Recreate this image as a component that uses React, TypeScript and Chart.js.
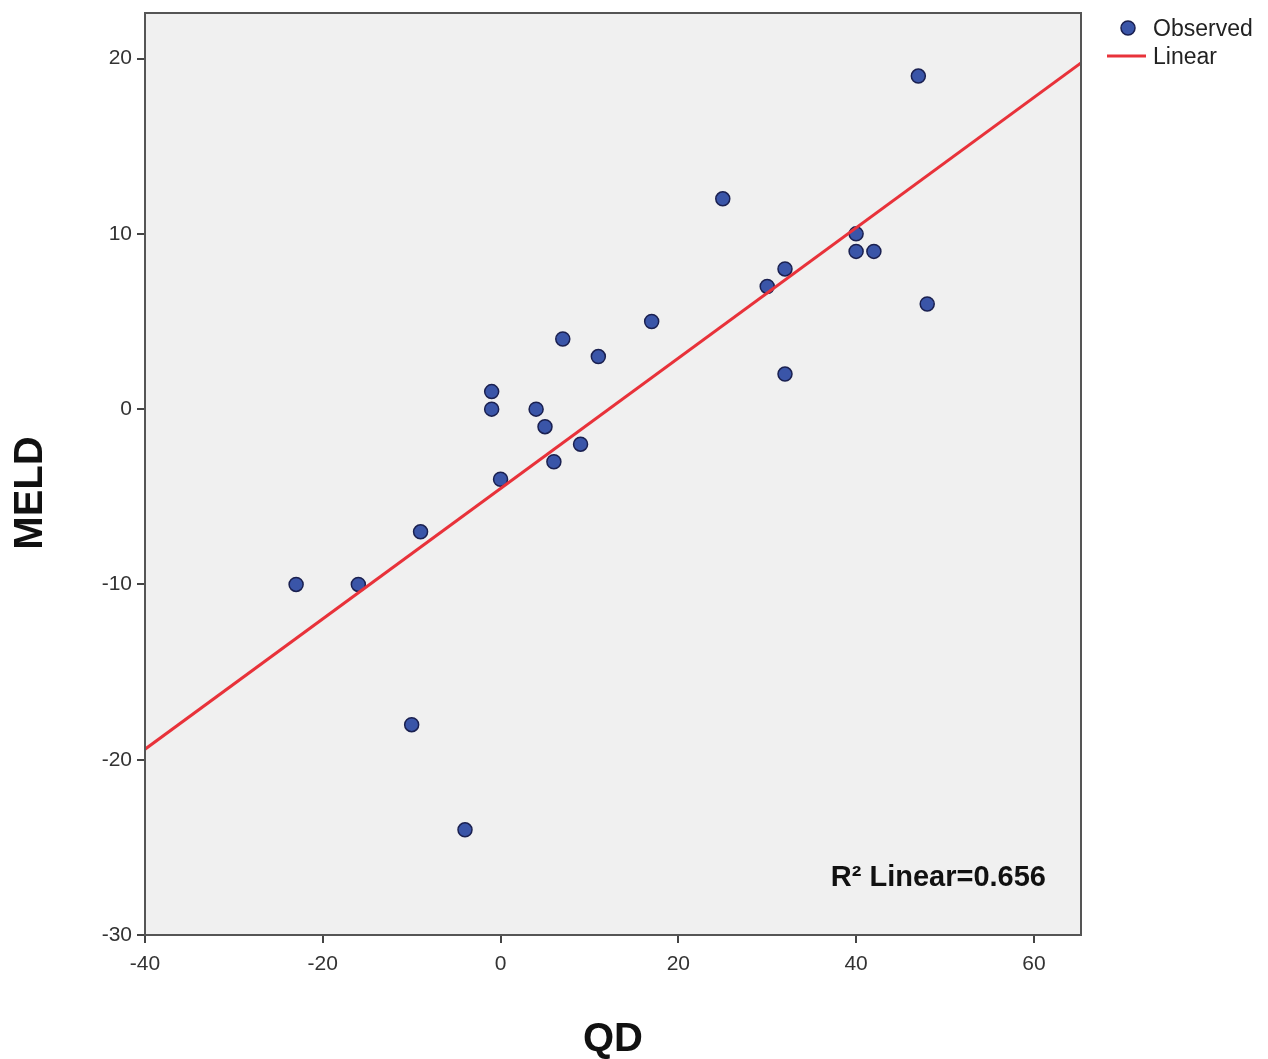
import React, { useEffect, useRef } from "react";
import { Chart, registerables } from "chart.js";

Chart.register(...registerables);

const qdValues = [-23, -16, -9, -10, -4, -1, -1, 0, 4, 5, 6, 7, 9, 11, 17, 25, 30, 32, 32, 40, 40, 42, 47, 48];
const meldValues = [-10, -10, -7, -18, -24, 1, 0, -4, 0, -1, -3, 4, -2, 3, 5, 12, 7, 8, 2, 10, 9, 9, 19, 6];
const fitX = [-40, 65.3];
const fitY = [-19.4, 19.75];
const xTickValues = [-40, -20, 0, 20, 40, 60];
const yTickValues = [-30, -20, -10, 0, 10, 20];
const r2Label = "R\u00b2 Linear=0.656";

const FONT = "'Liberation Sans', Arial, Helvetica, sans-serif";

export default function App() {
  const ref = useRef<HTMLCanvasElement>(null);
  useEffect(() => {
    const canvas = ref.current!;
    const decor = {
      id: "decor",
      beforeDraw(chart: any) {
        const { ctx, chartArea: a } = chart;
        ctx.save();
        ctx.fillStyle = "#f0f0f0";
        ctx.fillRect(a.left, a.top, a.right - a.left, a.bottom - a.top);
        ctx.restore();
      },
      afterDraw(chart: any) {
        const { ctx, chartArea: a } = chart;
        ctx.save();
        ctx.strokeStyle = "#555";
        ctx.lineWidth = 2;
        ctx.strokeRect(a.left, a.top, a.right - a.left, a.bottom - a.top);
        // R2 text
        ctx.fillStyle = "#111";
        ctx.font = `bold 29px ${FONT}`;
        ctx.textAlign = "right";
        ctx.textBaseline = "middle";
        ctx.fillText(r2Label, 1046, 878);
        // axis titles
        ctx.font = `bold 40px ${FONT}`;
        ctx.textAlign = "center";
        ctx.fillText("QD", (a.left + a.right) / 2, 1040);
        ctx.save();
        ctx.translate(31, 493);
        ctx.rotate(-Math.PI / 2);
        ctx.fillText("MELD", 0, 0);
        ctx.restore();
        // legend
        ctx.beginPath();
        ctx.arc(1128, 28, 7, 0, Math.PI * 2);
        ctx.fillStyle = "#3a55a8";
        ctx.fill();
        ctx.lineWidth = 1.5;
        ctx.strokeStyle = "#1a2050";
        ctx.stroke();
        ctx.beginPath();
        ctx.moveTo(1107, 56);
        ctx.lineTo(1146, 56);
        ctx.strokeStyle = "#e8323a";
        ctx.lineWidth = 3;
        ctx.stroke();
        ctx.fillStyle = "#222";
        ctx.font = `23px ${FONT}`;
        ctx.textAlign = "left";
        ctx.fillText("Observed", 1153, 30);
        ctx.fillText("Linear", 1153, 58);
        ctx.restore();
      },
    };
    const chart = new Chart(canvas, {
      type: "scatter",
      data: {
        datasets: [
          {
            label: "Observed",
            data: qdValues.map((x, i) => ({ x, y: meldValues[i] })),
            backgroundColor: "#3a55a8",
            borderColor: "#1a2050",
            borderWidth: 1.5,
            pointRadius: 7,
            order: 1,
          },
          {
            label: "Linear",
            type: "line",
            data: fitX.map((x, i) => ({ x, y: fitY[i] })),
            borderColor: "#e8323a",
            borderWidth: 3,
            pointRadius: 0,
            showLine: true,
            fill: false,
            order: 0,
          } as any,
        ],
      },
      options: {
        responsive: false,
        animation: false,
        layout: { padding: { top: 13, right: 187, left: 0, bottom: 0 } },
        plugins: { legend: { display: false }, tooltip: { enabled: false } },
        scales: {
          x: {
            type: "linear",
            min: -40,
            max: 65.3,
            afterBuildTicks: (s: any) => {
              s.ticks = xTickValues.map((v) => ({ value: v }));
            },
            afterFit: (s: any) => {
              s.height = 124;
              s.paddingLeft = 0;
              s.paddingRight = 0;
            },
            grid: { drawOnChartArea: false, drawTicks: true, tickLength: 8, color: "#444", lineWidth: 2 },
            border: { display: true, color: "#555", width: 2 },
            ticks: { color: "#333", font: { family: FONT, size: 21 }, padding: 9, maxRotation: 0 },
          },
          y: {
            type: "linear",
            min: -30,
            max: 22.6,
            afterBuildTicks: (s: any) => {
              s.ticks = yTickValues.map((v) => ({ value: v }));
            },
            afterFit: (s: any) => {
              s.width = 145;
              s.paddingTop = 0;
              s.paddingBottom = 0;
            },
            grid: { drawOnChartArea: false, drawTicks: true, tickLength: 8, color: "#444", lineWidth: 2 },
            border: { display: true, color: "#555", width: 2 },
            ticks: { color: "#333", font: { family: FONT, size: 21 }, padding: 5 },
          },
        },
      },
      plugins: [decor],
    });
    return () => chart.destroy();
  }, []);
  return (
    <div style={{ position: "fixed", left: 0, top: 0, width: 1268, height: 1059, background: "#fff" }}>
      <canvas ref={ref} width={1268} height={1059} style={{ width: 1268, height: 1059 }} />
    </div>
  );
}
